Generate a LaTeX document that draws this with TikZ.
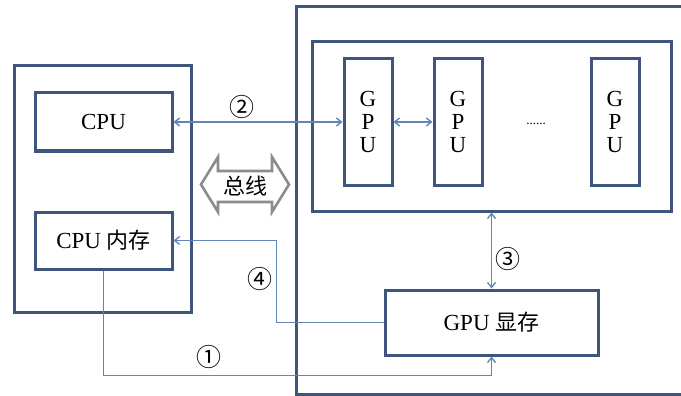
\documentclass[tikz,border=0pt]{standalone}
\usepackage{fontspec}
\setmainfont{Liberation Serif}
\newfontfamily\cjk{Noto Sans CJK SC}
\usetikzlibrary{arrows.meta}
\definecolor{boxblue}{RGB}{62,86,126}
\definecolor{linkblue}{RGB}{98,132,182}
\definecolor{busgray}{RGB}{140,140,140}
\begin{document}
\begin{tikzpicture}[x=1pt,y=-1pt,>={Straight Barb[length=5pt,width=8pt]},
    box/.style={draw=boxblue,line width=3pt,rectangle,font=\fontsize{23}{23}\selectfont},
    gpubox/.style={box,minimum width=48pt,minimum height=126pt,align=center},
    link/.style={draw=linkblue,line width=1.4pt},
    num/.style={font=\cjk\fontsize{25}{25}\selectfont}]
    \clip (0,0) rectangle (681,396);
    \fill[white] (0,0) rectangle (681,396);

    % host side
    \node [box, minimum width=177, minimum height=246](host) at (102.5,189){};
    \node [box, minimum width=137, minimum height=58](cpu) at (103.5,122){CPU};
    \node [box, minimum width=137, minimum height=57](cpumem) at (103.5,240.5){CPU {\cjk\fontsize{22}{22}\selectfont 内存}};

    % device side
    \node [box, minimum width=404, minimum height=387](dev) at (498,200.5){};
    \node [box, minimum width=359, minimum height=169](group) at (491.5,126.5){};
    \node [gpubox](gpu1) at (368,122){G\\P\\U};
    \node [gpubox](gpu2) at (458,122){G\\P\\U};
    \node [gpubox](gpu3) at (615,122){G\\P\\U};
    \node (dots) at (536,124){\fontsize{13}{14}\selectfont ......};
    \node [box, minimum width=213, minimum height=65](gmem) at (491.5,322.5){GPU {\cjk\fontsize{22}{22}\selectfont 显存}};

    % bus
    \draw[busgray,line width=2.6pt,fill=white] (201,184.5) -- (218,157) -- (218,171) -- (272,171)
        -- (272,157) -- (289,184.5) -- (272,212) -- (272,202) -- (218,202) -- (218,212) -- cycle;
    \node (bus) at (245,186){\cjk\fontsize{22}{22}\selectfont 总线};

    % links
    \draw[link,<->] (cpu.east) -- (gpu1.west);
    \draw[link,<->] (gpu1.east) -- (gpu2.west);
    \draw[link,<->] (gmem.north |- group.south) -- (gmem.north);
    \draw[link,->] (gmem.west) -- ++(-107,0) |- (cpumem.east);
    \draw[link,->] (cpumem.south) -- ++(0,105) -| (gmem.south);

    \node [num](l1) at (209,357){①};
    \node [num](l2) at (242,107){②};
    \node [num](l3) at (508,259){③};
    \node [num](l4) at (260,279){④};
\end{tikzpicture}
\end{document}
